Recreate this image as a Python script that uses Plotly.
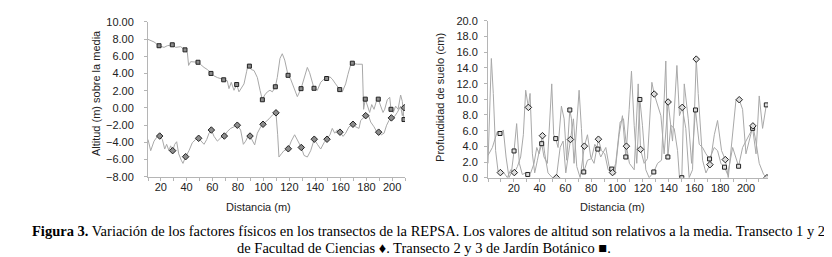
import plotly.graph_objects as go

W, H = 832, 257

# ---------------- Left panel: Altitud (m) sobre la media ----------------
# Jardín Botánico transect (squares) - line
alt_jar_d = [10.0, 14.7, 18.6, 22.5, 25.0, 28.9, 31.5, 35.4, 38.8, 40.6, 41.6, 43.2, 48.9, 51.0, 53.6, 56.2,
             59.0, 61.4, 64.0, 68.9, 71.7, 73.0, 74.8, 76.9, 79.0, 80.8, 82.6, 84.7, 86.8, 87.8, 88.9, 90.4,
             92.5, 95.1, 97.2, 99.0, 100.8, 102.9, 104.9, 106.8, 109.1, 110.6, 112.7, 114.5, 116.4, 119.0,
             121.0, 123.6, 126.2, 129.1, 131.5, 134.0, 135.8, 137.4, 139.2, 141.8, 144.4, 147.0, 149.0,
             151.6, 153.4, 156.0, 159.2, 161.2, 163.8, 165.6, 167.7, 169.0, 172.9, 176.8, 177.3, 177.8,
             179.1, 180.7, 182.5, 184.1, 185.9, 187.7, 189.2, 191.1, 192.9, 194.2, 196.2, 198.1, 199.1,
             200.9, 202.7, 204.6, 206.6, 207.9, 209.2]
alt_jar_v = [7.97, 7.67, 7.23, 7.04, 7.23, 7.34, 7.04, 7.12, 6.75, 6.49, 4.94, 5.38, 5.31, 5.01, 4.71, 4.46,
             4.01, 3.72, 3.53, 3.27, 3.16, 2.24, 2.98, 2.05, 2.72, 1.87, 2.24, 2.79, 4.27, 5.01, 4.86, 4.46,
             4.35, 3.53, 2.05, 0.95, 1.50, 1.87, 2.05, 1.87, 2.46, 3.53, 5.75, 6.30, 5.56, 3.79,
             3.35, 2.42, 1.31, 2.24, 3.53, 4.71, 4.09, 3.16, 2.28, 2.05, 2.98, 3.35, 3.42,
             3.61, 3.35, 2.79, 2.13, 1.87, 2.79, 3.90, 5.01, 5.20, 5.08, 5.08, 2.42, -0.16,
             1.02, 0.21, -0.53, 0.39, -0.16, 0.76, 1.02, 0.21, -0.53, -0.16, 0.95, 1.24, -0.16,
             -0.53, 0.21, -0.16, 1.50, 0.76, -1.35]
alt_jar_md = [18.6, 28.9, 38.8, 48.9, 59.0, 68.9, 79.0, 88.9, 99.0, 109.1, 119.0, 129.1, 139.2, 149.0,
              159.2, 169.0, 179.1, 189.2, 199.1, 209.2]
alt_jar_mv = [7.23, 7.34, 6.75, 5.31, 4.01, 3.27, 2.72, 4.86, 0.95, 2.46, 3.79, 2.24, 2.28, 3.42,
              2.13, 5.20, 1.02, 1.02, -0.16, -1.35]

# Facultad de Ciencias transect (diamonds) - line
alt_fac_d = [10.0, 12.1, 14.7, 17.3, 19.1, 21.2, 23.0, 24.5, 26.3, 27.6, 29.2, 30.8, 32.3, 33.9, 35.9, 37.2,
             39.3, 41.9, 44.5, 47.1, 49.4, 51.5, 53.6, 55.7, 57.5, 59.3, 61.4, 64.0, 66.5, 69.4, 71.7,
             74.3, 76.9, 79.5, 82.1, 84.2, 86.0, 87.8, 89.4, 91.2, 93.0, 95.1, 97.7, 99.5, 101.6, 104.2,
             106.8, 109.6, 110.9, 111.9, 113.8, 115.8, 119.2, 121.5, 124.1, 126.2, 129.3, 131.4, 134.0,
             136.6, 139.4, 141.8, 144.4, 147.0, 149.3, 151.6, 153.4, 155.3, 157.3, 159.4, 161.8, 163.8,
             166.4, 169.5, 171.6, 174.2, 175.5, 177.6, 179.4, 181.2, 183.3, 185.9, 187.9, 189.5, 191.6,
             193.7, 195.7, 197.5, 199.4, 201.4, 204.0, 206.6, 207.9, 209.5]
alt_fac_v = [-3.67, -4.97, -3.86, -3.31, -3.27, -3.67, -4.78, -4.23, -4.97, -4.41, -4.97, -4.23, -3.93, -5.34,
             -6.08, -6.45, -5.67, -4.97, -4.04, -3.67, -3.53, -3.86, -4.23, -3.67, -2.94, -2.57, -3.31,
             -3.86, -3.49, -3.27, -2.75, -2.38, -2.20, -2.01, -2.57, -4.23, -3.86, -3.31, -3.27, -3.86,
             -4.30, -2.94, -2.20, -1.90, -1.64, -1.27, -0.83, -0.57, -3.12, -5.71, -5.34, -4.97, -4.75,
             -3.86, -3.12, -3.67, -4.60, -5.52, -5.71, -4.97, -3.64, -4.23, -4.78, -4.04, -3.64, -3.12,
             -2.38, -2.94, -2.57, -2.82, -3.31, -2.94, -2.20, -1.90, -2.20, -2.38, -1.46, -1.09, -0.90,
             -0.72, -1.64, -2.20, -2.75, -2.82, -3.12, -2.94, -2.01, -1.46, -1.16, -1.09, -0.53, 0.21,
             -0.90, 0.02]
alt_fac_md = [19.1, 29.2, 39.3, 49.4, 59.3, 69.4, 79.5, 89.4, 99.5, 109.6, 119.2, 129.3, 139.4, 149.3,
              159.4, 169.5, 179.4, 189.5, 199.4, 209.5]
alt_fac_mv = [-3.27, -4.97, -5.67, -3.53, -2.57, -3.27, -2.01, -3.27, -1.90, -0.57, -4.75, -4.60, -3.64,
              -3.64, -2.82, -1.90, -0.90, -2.82, -1.16, 0.02]

# ---------------- Right panel: Profundidad de suelo (cm) ----------------
soil_jar_d = [0.0, 3.4, 7.2, 9.3, 11.9, 14.0, 16.3, 18.1, 20.2, 22.2, 24.3, 26.6, 29.0, 30.8, 33.1, 35.7,
              37.8, 39.6, 41.6, 43.4, 46.0, 49.4, 50.9, 52.5, 54.3, 56.9, 59.0, 61.0, 63.4, 64.7, 66.7,
              70.6, 72.4, 74.2, 77.1, 80.2, 82.8, 85.1, 87.4, 91.3, 93.9, 95.9, 98.3, 101.6, 104.2, 106.8,
              109.4, 111.2, 113.3, 115.3, 117.7, 119.7, 122.3, 124.9, 128.5, 131.4, 134.5, 137.8, 139.4,
              141.7, 144.3, 146.9, 148.4, 150.2, 152.1, 155.2, 157.8, 160.8, 163.7, 166.3, 168.9, 171.7,
              175.3, 177.9, 180.5, 183.3, 185.7, 189.6, 194.2, 197.3, 199.9, 202.5, 205.1, 207.7, 210.2,
              212.8, 215.7]
soil_jar_v = [2.84, 3.85, 5.88, 5.64, 6.09, 2.64, 0.0, 0.61, 3.41, 6.90, 1.83, 0.41, 0.61, 0.41, 0.61, 1.83,
              3.85, 3.04, 4.34, 2.64, 1.83, 11.97, 5.48, 4.99, 3.85, 9.13, 7.51, 2.23, 8.64, 7.51, 1.83,
              11.16, 6.29, 0.73, 2.23, 2.43, 4.26, 3.65, 2.64, 3.85, 1.42, 1.10, 0.41, 5.48, 7.91, 2.64,
              8.72, 13.59, 6.69, 1.83, 9.98, 6.69, 1.01, 0.0, 0.73, 1.83, 2.23, 14.89, 2.64,
              6.69, 6.29, 3.45, 0.0, 0.0, 11.97, 7.51, 1.83, 8.64, 4.26, 3.85, 3.04, 2.39,
              3.85, 3.45, 1.83, 1.34, 0.41, 3.85, 1.46, 3.85, 4.67, 5.48, 6.29, 3.04, 10.43,
              6.29, 9.29]
soil_jar_md = [9.3, 20.2, 30.8, 41.6, 52.5, 63.4, 74.2, 85.1, 95.9, 106.8, 117.7, 128.5, 139.4, 150.2,
               160.8, 171.7, 183.3, 194.2, 205.1, 215.7]
soil_jar_mv = [5.64, 3.41, 0.41, 4.34, 4.99, 8.64, 0.73, 3.65, 1.10, 2.64, 9.98, 0.73, 2.64, 0.0,
               8.64, 2.39, 1.34, 1.46, 6.29, 9.29]

soil_fac_d = [0.0, 1.6, 2.6, 4.1, 5.9, 7.8, 9.6, 12.4, 15.0, 17.6, 20.4, 22.8, 25.3, 27.4, 29.2, 31.3, 32.6,
              34.4, 36.2, 38.3, 42.2, 44.0, 46.5, 49.9, 53.0, 55.9, 58.2, 60.3, 63.9, 66.2, 68.8, 71.4,
              74.7, 77.1, 79.6, 82.2, 85.6, 87.9, 90.5, 93.1, 96.5, 99.0, 102.4, 105.0, 107.3, 109.6,
              113.3, 116.4, 118.2, 121.0, 123.6, 127.0, 128.8, 131.4, 134.0, 136.5, 139.6, 143.0, 146.4,
              148.4, 150.5, 153.3, 155.9, 158.5, 161.4, 162.9, 166.3, 168.9, 172.0, 175.4, 177.9, 181.0,
              183.9, 186.2, 189.6, 192.2, 194.7, 197.3, 199.9, 202.5, 205.3, 207.6, 210.2, 213.6, 216.2]
soil_fac_v = [1.83, 8.72, 15.21, 10.75, 3.45, 0.81, 0.65, 0.61, 0.0, 1.01, 0.65, 1.42, 2.64, 5.48, 11.16,
              8.97, 10.75, 3.04, 0.61, 2.23, 5.36, 3.04, 0.61, 0.0, 0.0, 3.85, 4.67, 0.61, 4.87, 7.51,
              1.42, 0.0, 4.02, 5.48, 2.64, 1.83, 4.91, 3.45, 3.04, 1.01, 0.65, 1.83, 7.10, 7.51, 4.02,
              1.83, 1.01, 11.97, 3.61, 1.83, 2.43, 12.17, 10.67, 9.13, 7.91, 3.04, 9.66, 4.67, 14.32,
              7.91, 8.97, 6.29, 0.0, 1.01, 15.13, 10.75, 2.23, 0.61, 1.66, 5.48, 7.30, 3.45,
              2.31, 0.0, 5.48, 9.94, 9.95, 8.72, 3.04, 4.67, 6.61, 4.67, 1.83, 0.41, 0.0]
soil_fac_md = [9.6, 20.4, 31.3, 42.2, 53.0, 63.9, 74.7, 85.6, 96.5, 107.3, 118.2, 128.8, 139.6, 150.5,
               161.4, 172.0, 183.9, 194.7, 205.3, 216.2]
soil_fac_mv = [0.65, 0.65, 8.97, 5.36, 0.0, 4.87, 4.02, 4.91, 0.65, 4.02, 3.61, 10.67, 9.66, 8.97,
               15.13, 1.66, 2.31, 9.95, 6.61, 0.0]

# tick labels
alt_ticks = [10, 8, 6, 4, 2, 0, -2, -4, -6, -8]
soil_ticks = [20, 18, 16, 14, 12, 10, 8, 6, 4, 2, 0]
dist_ticks = [20, 40, 60, 80, 100, 120, 140, 160, 180, 200]

caption_1 = ("<b>Figura 3.</b> Variación de los factores físicos en los transectos de la REPSA. "
             "Los valores de altitud son relativos a la media. Transecto 1 y 2")
caption_2 = "de Facultad de Ciencias ♦. Transecto 2 y 3 de Jardín Botánico ■."

LINE = dict(color="#a8a8a8", width=1)
AX = "#b5b5b5"
TF = dict(family="Liberation Sans, Arial, sans-serif", size=11, color="#222")
CF = dict(family="Liberation Serif, Times New Roman, serif", size=14.5, color="black")

fig = go.Figure()
# left
fig.add_trace(go.Scatter(x=alt_jar_d, y=alt_jar_v, mode="lines", line=LINE, xaxis="x", yaxis="y"))
fig.add_trace(go.Scatter(x=alt_fac_d, y=alt_fac_v, mode="lines", line=LINE, xaxis="x", yaxis="y"))
fig.add_trace(go.Scatter(x=alt_jar_md, y=alt_jar_mv, mode="markers", xaxis="x", yaxis="y",
                         marker=dict(symbol="square", size=4, color="#8c8c8c", line=dict(color="#222", width=1))))
fig.add_trace(go.Scatter(x=alt_fac_md, y=alt_fac_mv, mode="markers", xaxis="x", yaxis="y",
                         marker=dict(symbol="diamond", size=5, color="#8c8c8c", line=dict(color="#222", width=1))))
# right
fig.add_trace(go.Scatter(x=soil_jar_d, y=soil_jar_v, mode="lines", line=LINE, xaxis="x2", yaxis="y2"))
fig.add_trace(go.Scatter(x=soil_fac_d, y=soil_fac_v, mode="lines", line=LINE, xaxis="x2", yaxis="y2"))
fig.add_trace(go.Scatter(x=soil_jar_md, y=soil_jar_mv, mode="markers", xaxis="x2", yaxis="y2",
                         marker=dict(symbol="square", size=4, color="#dddddd", line=dict(color="#222", width=1))))
fig.add_trace(go.Scatter(x=soil_fac_md, y=soil_fac_mv, mode="markers", xaxis="x2", yaxis="y2",
                         marker=dict(symbol="diamond", size=5, color="#dddddd", line=dict(color="#222", width=1))))


def xax(dom, rng, anchor):
    return dict(domain=dom, range=rng, tickvals=dist_ticks, ticks="outside", ticklen=3, tickcolor=AX,
                showline=True, linecolor=AX, linewidth=1, showgrid=False, zeroline=False, anchor=anchor,
                tickfont=TF, ticklabelstandoff=-3,
                minor=dict(dtick=10, tick0=0, ticks="outside", ticklen=3, tickcolor=AX))


def yax(dom, rng, vals, fmt, anchor, standoff):
    return dict(domain=dom, range=rng, tickvals=vals, tickformat=fmt, ticks="outside", ticklen=3,
                tickcolor=AX, showline=True, linecolor=AX, linewidth=1, showgrid=False, zeroline=False,
                tickfont=TF, anchor=anchor, ticklabelstandoff=standoff)


def ann(text, x, y, font, angle=0):
    return dict(text=text, x=x / W, y=1 - y / H, xref="paper", yref="paper", textangle=angle,
                showarrow=False, font=font, xanchor="center", yanchor="middle", align="center")


fig.update_layout(
    width=W, height=H, margin=dict(l=0, r=0, t=0, b=0),
    paper_bgcolor="white", plot_bgcolor="white", showlegend=False,
    xaxis=xax([140 / W, 397 / W], [10, 210], "y"),
    yaxis=yax([1 - 170.7 / H, 1 - 8.3 / H], [-8, 10], alt_ticks, ".2f", "x", 8),
    xaxis2=xax([480 / W, 760 / W], [0, 217], "y2"),
    yaxis2=yax([1 - 171.7 / H, 1 - 7.3 / H], [0, 20], soil_ticks, ".1f", "x2", 4),
    annotations=[
        ann("Altitud (m) sobre la media", 88, 83, TF, -90),
        ann("Profundidad de suelo (cm)", 432, 88, TF, -90),
        ann("Distancia (m)", 250, 202, TF),
        ann("Distancia (m)", 604, 202, TF),
        ann(caption_1, 420, 228, CF),
        ann(caption_2, 416, 245, CF),
    ],
)

fig.write_html("out.html")
